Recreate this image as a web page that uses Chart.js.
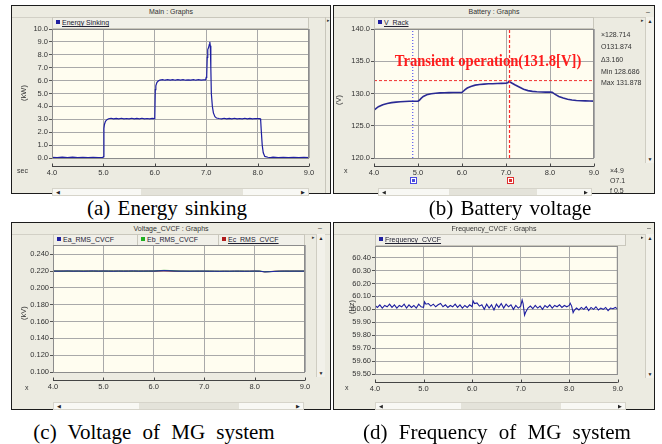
<!DOCTYPE html>
<html>
<head>
<meta charset="utf-8">
<script src="https://cdn.jsdelivr.net/npm/chart.js@4.4.0/dist/chart.umd.min.js"></script>
<style>
body { margin:0; width:662px; height:444px; background:#fff; position:relative; overflow:hidden; font-family:"Liberation Sans", Arial, sans-serif; }
.frame { position:absolute; background:#ecebe1; border:1px solid #1c1c1c; box-sizing:border-box; }
.ttl { position:absolute; left:0; right:0; top:0; height:11px; font-size:7px; line-height:11px; text-align:center; color:#333; border-bottom:1px solid #d2d0c6; }
.legend { position:absolute; height:12px; background:#f1f0e9; border:1px solid #c9c7bc; box-sizing:border-box; font-size:7px; line-height:10px; color:#223; }
.lg { position:absolute; top:0; height:10px; padding-left:3px; }
.lg i { display:inline-block; width:4px; height:4px; margin-right:2px; vertical-align:1px; }
.sep { border-left:1px solid #c9c7bc; }
.sel { text-decoration:underline; }
canvas { position:absolute; }
.ui { position:absolute; font-size:7px; color:#333; white-space:nowrap; line-height:8px; }
.ytl { position:absolute; font-size:7.5px; color:#333; transform:translate(-50%,-50%) rotate(-90deg); white-space:nowrap; }
.hs { position:absolute; height:8px; background:#f8f8f4; border:1px solid #d6d4ca; box-sizing:border-box; font-size:5px; line-height:6px; color:#222; }
.hs b { position:absolute; top:0; bottom:0; background:#e4e3da; }
.vs { position:absolute; width:9px; background:#f2f1ea; border-left:1px solid #cfcdc2; box-sizing:border-box; font-size:5px; color:#222; text-align:center; }
.cap { position:absolute; font-family:"Liberation Serif","Times New Roman",serif; font-size:21px; color:#000; white-space:nowrap; transform:translate(-50%,-50%); word-spacing:2px; }
.cap2 { word-spacing:6px; }
.note { position:absolute; font-family:"Liberation Serif","Times New Roman",serif; font-weight:bold; font-size:17px; color:#ff1c1c; white-space:nowrap; transform:translate(-50%,-50%) scaleX(0.86); }
</style>
</head>
<body>

<!-- (a) -->
<div class="frame" style="left:11px;top:5px;width:320px;height:189px">
  <div class="ttl">Main : Graphs</div>
</div>
<div class="ui" style="left:325px;top:17px;width:1px;height:176px;background:#c8c6bb"></div>
<div class="ui" style="left:327px;top:16px;font-size:5px">&#9656;</div>
<div class="legend" style="left:52px;top:17px;width:257px">
  <span class="lg"><i style="background:#1f1fa0"></i><span class="sel">Energy Sinking</span></span>
</div>
<canvas id="chartA" width="314" height="160" style="left:12px;top:20px"></canvas>
<div class="ytl" style="left:23px;top:93px">(kW)</div>
<div class="ui" style="left:17px;top:167px">sec</div>
<div class="hs" style="left:52px;top:188px;width:257px"><b style="left:88px;width:102px"></b><span style="position:absolute;left:3px">&#9664;</span><span style="position:absolute;right:3px">&#9654;</span></div>
<div class="cap" style="left:167px;top:208px">(a) Energy sinking</div>

<!-- (b) -->
<div class="frame" style="left:333px;top:5px;width:322px;height:189px">
  <div class="ttl">Battery : Graphs</div>
</div>
<div class="ui" style="left:646px;top:8px">&#8211;</div>
<div class="ui" style="left:641px;top:16px;font-size:5px">&#9656;</div>
<div class="vs" style="left:645px;top:17px;height:146px"><div style="margin-top:1px">&#9650;</div><div style="position:absolute;bottom:1px;width:8px">&#9660;</div></div>
<div class="legend" style="left:374px;top:17px;width:220px">
  <span class="lg"><i style="background:#1f1fa0"></i><span class="sel">V_Rack</span></span>
</div>
<canvas id="chartB" width="300" height="168" style="left:333px;top:20px"></canvas>
<div class="note" style="left:488px;top:61px">Transient operation(131.8[V])</div>
<div class="ytl" style="left:338px;top:100px">(V)</div>
<div class="ui" style="left:601px;top:31px">&#215;128.714</div>
<div class="ui" style="left:601px;top:43px">O131.874</div>
<div class="ui" style="left:601px;top:56px">&#916;3.160</div>
<div class="ui" style="left:601px;top:68px">Min 128.686</div>
<div class="ui" style="left:601px;top:79px">Max 131.878</div>
<div class="ui" style="left:344px;top:167px">x</div>
<div class="ui" style="left:610px;top:167px">&#215;4.9</div>
<div class="ui" style="left:610px;top:177px">O7.1</div>
<div class="ui" style="left:610px;top:187px">f 0.5</div>
<div class="hs" style="left:378px;top:188px;width:214px"><b style="left:70px;width:88px"></b><span style="position:absolute;left:3px">&#9664;</span><span style="position:absolute;right:3px">&#9654;</span></div>
<div class="cap" style="left:510px;top:208px">(b) Battery voltage</div>

<!-- (c) -->
<div class="frame" style="left:11px;top:222px;width:320px;height:188px">
  <div class="ttl">Voltage_CVCF : Graphs</div>
</div>
<div class="ui" style="left:318px;top:224px">&#8211;</div>
<div class="ui" style="left:312px;top:233px;font-size:5px">&#9656;</div>
<div class="vs" style="left:316px;top:234px;height:143px"><div style="margin-top:1px">&#9650;</div><div style="position:absolute;bottom:1px;width:8px">&#9660;</div></div>
<div class="legend" style="left:53px;top:234px;width:252px">
  <span class="lg" style="left:0"><i style="background:#1f1fa0"></i>Ea_RMS_CVCF</span>
  <span class="lg sep" style="left:83px"><i style="background:#20b020"></i>Eb_RMS_CVCF</span>
  <span class="lg sep" style="left:164px"><i style="background:#b01c1c"></i><span class="sel">Ec_RMS_CVCF</span></span>
</div>
<canvas id="chartC" width="314" height="160" style="left:12px;top:236px"></canvas>
<div class="ytl" style="left:23px;top:313px">(kV)</div>
<div class="ui" style="left:25px;top:384px">x</div>
<div class="hs" style="left:53px;top:402px;width:251px"><b style="left:85px;width:100px"></b><span style="position:absolute;left:3px">&#9664;</span><span style="position:absolute;right:3px">&#9654;</span></div>
<div class="cap cap2" style="left:154px;top:432px">(c) Voltage of MG system</div>

<!-- (d) -->
<div class="frame" style="left:333px;top:222px;width:322px;height:188px">
  <div class="ttl">Frequency_CVCF : Graphs</div>
</div>
<div class="ui" style="left:647px;top:224px">&#8211;</div>
<div class="ui" style="left:641px;top:233px;font-size:5px">&#9656;</div>
<div class="vs" style="left:645px;top:234px;height:144px"><div style="margin-top:1px">&#9650;</div><div style="position:absolute;bottom:1px;width:8px">&#9660;</div></div>
<div class="legend" style="left:375px;top:234px;width:251px">
  <span class="lg"><i style="background:#1f1fa0"></i><span class="sel">Frequency_CVCF</span></span>
</div>
<canvas id="chartD" width="300" height="160" style="left:333px;top:236px"></canvas>
<div class="ytl" style="left:351px;top:307px">(Hz)</div>
<div class="ui" style="left:345px;top:384px">x</div>
<div class="hs" style="left:375px;top:402px;width:251px"><b style="left:85px;width:100px"></b><span style="position:absolute;left:3px">&#9664;</span><span style="position:absolute;right:3px">&#9654;</span></div>
<div class="cap cap2" style="left:497px;top:432px">(d) Frequency of MG system</div>

<script>
// common x axis (sec)
const xTicks = [4, 5, 6, 7, 8, 9]

// (a) energy sinking, kW
const yTicksA = [0, 1, 2, 3, 4, 5, 6, 7, 8, 9, 10]
const tA = [
    4.0, 4.1, 4.2, 4.3, 4.4, 4.5, 4.6, 4.7, 4.8, 4.9,
    4.99, 5.0, 5.01, 5.02, 5.04, 5.07, 5.1, 5.15, 5.2, 5.25,
    5.3, 5.35, 5.4, 5.45, 5.5, 5.55, 5.6, 5.65, 5.7, 5.75,
    5.8, 5.85, 5.9, 5.95, 5.99, 6.0, 6.01, 6.02, 6.04, 6.07,
    6.1, 6.15, 6.2, 6.25, 6.3, 6.35, 6.4, 6.45, 6.5, 6.55,
    6.6, 6.65, 6.7, 6.75, 6.8, 6.85, 6.9, 6.95, 6.99, 7.0,
    7.01, 7.02, 7.03, 7.05, 7.06, 7.07, 7.08, 7.09, 7.1, 7.12,
    7.14, 7.17, 7.2, 7.25, 7.3, 7.35, 7.4, 7.45, 7.5, 7.55,
    7.6, 7.65, 7.7, 7.75, 7.8, 7.85, 7.9, 7.95, 8.0, 8.05,
    8.06, 8.07, 8.09, 8.11, 8.14, 8.2, 8.25, 8.3, 8.4, 8.5,
    8.6, 8.7, 8.8, 8.9, 9.0
]
const pA = [
    0.05, 0.03, 0.06, 0.04, 0.06, 0.03, 0.05, 0.04, 0.06, 0.04,
    0.05, 0.1, 2.3, 2.6, 2.85, 2.97, 3.04, 3.08, 3.03, 3.07,
    3.04, 3.08, 3.03, 3.06, 3.04, 3.08, 3.03, 3.07, 3.04, 3.08,
    3.03, 3.06, 3.04, 3.07, 3.05, 3.2, 5.3, 5.6, 5.85, 5.98,
    6.04, 6.08, 6.03, 6.07, 6.04, 6.08, 6.03, 6.07, 6.04, 6.08,
    6.03, 6.06, 6.04, 6.08, 6.03, 6.07, 6.04, 6.06, 6.05, 6.25,
    6.4, 7.8, 8.4, 8.6, 8.8, 9.0, 8.7, 7.0, 5.0, 4.0,
    3.5, 3.2, 3.1, 3.06, 3.04, 3.08, 3.03, 3.07, 3.04, 3.08,
    3.03, 3.06, 3.04, 3.08, 3.03, 3.07, 3.04, 3.06, 3.05, 3.05,
    2.9, 2.2, 1.0, 0.4, 0.12, 0.06, 0.04, 0.06, 0.03, 0.05,
    0.04, 0.06, 0.04, 0.05, 0.04
]

// (b) battery rack voltage, V
const yTicksB = [120, 125, 130, 135, 140]
const tB = [
    4.0, 4.05, 4.1, 4.2, 4.3, 4.4, 4.5, 4.6, 4.7, 4.8,
    4.9, 5.0, 5.03, 5.07, 5.12, 5.2, 5.3, 5.4, 5.5, 5.6,
    5.7, 5.8, 5.9, 6.0, 6.03, 6.07, 6.12, 6.2, 6.3, 6.4,
    6.5, 6.6, 6.7, 6.8, 6.9, 7.0, 7.04, 7.07, 7.1, 7.15,
    7.2, 7.3, 7.4, 7.5, 7.6, 7.7, 7.8, 7.9, 8.0, 8.05,
    8.1, 8.2, 8.3, 8.4, 8.5, 8.6, 8.7, 8.8, 8.9, 9.0
]
const vB = [
    127.4, 127.7, 127.95, 128.25, 128.45, 128.58, 128.66, 128.72, 128.76, 128.79,
    128.8, 128.82, 128.95, 129.25, 129.55, 129.8, 129.95, 130.05, 130.1, 130.12,
    130.14, 130.15, 130.16, 130.17, 130.35, 130.6, 130.85, 131.1, 131.3, 131.4,
    131.45, 131.5, 131.52, 131.55, 131.57, 131.6, 131.65, 131.88, 131.75, 131.55,
    131.35, 131.0, 130.65, 130.45, 130.33, 130.27, 130.24, 130.22, 130.21, 130.2,
    129.95, 129.55, 129.3, 129.1, 128.98, 128.92, 128.88, 128.86, 128.84, 128.82
]
const cursorsB = [4.88, 7.08]
const levelB = 132.0

// (c) phase rms voltages, kV
const yTicksC = [0.10, 0.12, 0.14, 0.16, 0.18, 0.20, 0.22, 0.24]
const tC = [
    4.0, 4.1, 4.2, 4.3, 4.4, 4.5, 4.6, 4.7, 4.8, 4.9,
    5.0, 5.1, 5.2, 5.3, 5.4, 5.5, 5.6, 5.7, 5.8, 5.9,
    6.0, 6.1, 6.2, 6.3, 6.4, 6.5, 6.6, 6.7, 6.8, 6.9,
    7.0, 7.1, 7.2, 7.3, 7.4, 7.5, 7.6, 7.7, 7.8, 7.9,
    8.0, 8.1, 8.2, 8.3, 8.4, 8.5, 8.6, 8.7, 8.8, 8.9,
    9.0
]
const eaC = [
    0.2201, 0.2199, 0.2200, 0.2202, 0.2199, 0.2201, 0.2198, 0.2200, 0.2202, 0.2199,
    0.2201, 0.2200, 0.2198, 0.2201, 0.2199, 0.2200, 0.2202, 0.2199, 0.2200, 0.2201,
    0.2200, 0.2203, 0.2206, 0.2204, 0.2201, 0.2199, 0.2200, 0.2198, 0.2200, 0.2199,
    0.2200, 0.2198, 0.2199, 0.2197, 0.2199, 0.2198, 0.2200, 0.2199, 0.2198, 0.2199,
    0.2200, 0.2199, 0.2190, 0.2192, 0.2196, 0.2199, 0.2200, 0.2199, 0.2200, 0.2199,
    0.2200
]
const ebC = [
    0.2199, 0.2201, 0.2199, 0.2200, 0.2201, 0.2199, 0.2201, 0.2199, 0.2200, 0.2201,
    0.2199, 0.2201, 0.2200, 0.2199, 0.2201, 0.2199, 0.2200, 0.2201, 0.2199, 0.2200,
    0.2201, 0.2205, 0.2209, 0.2207, 0.2203, 0.2200, 0.2199, 0.2200, 0.2199, 0.2200,
    0.2199, 0.2200, 0.2198, 0.2199, 0.2198, 0.2199, 0.2198, 0.2200, 0.2199, 0.2198,
    0.2199, 0.2200, 0.2192, 0.2193, 0.2197, 0.2198, 0.2199, 0.2200, 0.2199, 0.2200,
    0.2199
]
const ecC = [
    0.2200, 0.2200, 0.2201, 0.2199, 0.2200, 0.2200, 0.2200, 0.2201, 0.2199, 0.2200,
    0.2200, 0.2199, 0.2201, 0.2200, 0.2200, 0.2201, 0.2199, 0.2200, 0.2201, 0.2200,
    0.2200, 0.2202, 0.2204, 0.2202, 0.2200, 0.2200, 0.2199, 0.2199, 0.2198, 0.2199,
    0.2198, 0.2199, 0.2198, 0.2198, 0.2199, 0.2198, 0.2199, 0.2199, 0.2199, 0.2199,
    0.2200, 0.2198, 0.2191, 0.2194, 0.2198, 0.2200, 0.2200, 0.2200, 0.2200, 0.2200,
    0.2200
]

// (d) system frequency, Hz
const yTicksD = [59.5, 59.6, 59.7, 59.8, 59.9, 60.0, 60.1, 60.2, 60.3, 60.4]
const tD = [
    4.0, 4.05, 4.1, 4.15, 4.2, 4.25, 4.3, 4.35, 4.4, 4.45,
    4.5, 4.55, 4.6, 4.65, 4.7, 4.75, 4.8, 4.85, 4.9, 4.95,
    5.0, 5.02, 5.05, 5.1, 5.15, 5.2, 5.25, 5.3, 5.35, 5.4,
    5.45, 5.5, 5.55, 5.6, 5.65, 5.7, 5.75, 5.8, 5.85, 5.9,
    5.95, 6.0, 6.02, 6.05, 6.1, 6.15, 6.2, 6.25, 6.3, 6.35,
    6.4, 6.45, 6.5, 6.55, 6.6, 6.65, 6.7, 6.75, 6.8, 6.85,
    6.9, 6.95, 7.0, 7.03, 7.05, 7.08, 7.1, 7.15, 7.2, 7.25,
    7.3, 7.35, 7.4, 7.45, 7.5, 7.55, 7.6, 7.65, 7.7, 7.75,
    7.8, 7.85, 7.9, 7.95, 8.0, 8.02, 8.05, 8.08, 8.1, 8.15,
    8.2, 8.25, 8.3, 8.35, 8.4, 8.45, 8.5, 8.55, 8.6, 8.65,
    8.7, 8.75, 8.8, 8.85, 8.9, 8.95, 9.0
]
const fD = [
    60.03, 60.015, 60.035, 60.01, 60.03, 60.02, 60.04, 60.015, 60.035, 60.01,
    60.03, 60.02, 60.04, 60.01, 60.035, 60.015, 60.03, 60.01, 60.04, 60.02,
    60.015, 60.058, 60.04, 60.045, 60.025, 60.04, 60.02, 60.035, 60.045, 60.02,
    60.035, 60.015, 60.03, 60.02, 60.04, 60.015, 60.035, 60.01, 60.03, 60.015,
    60.035, 60.02, 60.065, 60.045, 60.05, 60.025, 60.035, 60.0, 60.04, 60.01,
    60.035, 59.995, 60.04, 60.015, 60.045, 60.01, 60.04, 60.02, 60.035, 60.0,
    60.03, 60.01, 60.025, 60.072, 60.045, 59.955, 59.975, 60.01, 60.025, 60.005,
    60.03, 60.01, 60.025, 60.0, 60.03, 60.015, 60.035, 60.01, 60.03, 60.02,
    60.035, 60.015, 60.03, 60.02, 60.03, 60.047, 60.025, 59.975, 59.99, 60.01,
    59.995, 60.015, 60.0, 60.02, 59.99, 60.015, 60.0, 60.02, 59.995, 60.01,
    60.0, 60.015, 59.99, 60.01, 60.005, 60.015, 60.0
]

const tickFont = {family: 'Liberation Sans', size: 7.5}

// cream plot area, plot border, detached x axis line and cursor markers
const plotFrame = {
    id: 'plotFrame',
    beforeDraw(chart) {
        const a = chart.chartArea
        const ctx = chart.ctx
        ctx.save()
        ctx.fillStyle = '#fffdf0'
        ctx.fillRect(a.left, a.top, a.right - a.left, a.bottom - a.top)
        ctx.restore()
    },
    afterDraw(chart, args, opts) {
        const a = chart.chartArea
        const ctx = chart.ctx
        const xs = chart.scales.x
        ctx.save()
        ctx.strokeStyle = '#8c8c8c'
        ctx.lineWidth = 1
        ctx.strokeRect(a.left + 0.5, a.top + 0.5, a.right - a.left - 1, a.bottom - a.top)
        const ay = Math.round(a.bottom + 8) + 0.5
        ctx.strokeStyle = '#444'
        ctx.beginPath()
        ctx.moveTo(a.left, ay)
        ctx.lineTo(a.right, ay)
        xTicks.forEach(v => {
            const px = Math.round(xs.getPixelForValue(v)) + 0.5
            ctx.moveTo(px, ay)
            ctx.lineTo(px, ay - 3)
        })
        ctx.stroke()
        ;(opts.markers || []).forEach(m => {
            const px = Math.round(xs.getPixelForValue(m.x)) + 0.5
            ctx.fillStyle = '#fff'
            ctx.strokeStyle = m.color
            ctx.fillRect(px - 3, ay + 11, 6, 6)
            ctx.strokeRect(px - 3, ay + 11, 6, 6)
            ctx.fillStyle = m.color
            ctx.fillRect(px - 1.5, ay + 12.5, 3, 3)
        })
        ctx.restore()
    }
}

function series(ts, vs, color, width) {
    return {
        data: ts.map((t, i) => ({x: t, y: vs[i]})),
        borderColor: color,
        borderWidth: width || 1,
        pointRadius: 0,
        tension: 0
    }
}

function vline(x, y0, y1, color, dash) {
    return {data: [{x: x, y: y0}, {x: x, y: y1}], borderColor: color, borderWidth: 1.2, borderDash: dash, pointRadius: 0}
}

function makePanel(id, cfg) {
    const c = document.getElementById(id)
    return new Chart(c.getContext('2d'), {
        type: 'line',
        data: {datasets: cfg.datasets},
        options: {
            responsive: false,
            animation: false,
            events: [],
            layout: {padding: cfg.pad},
            plugins: {
                legend: {display: false},
                tooltip: {enabled: false},
                plotFrame: {markers: cfg.markers}
            },
            scales: {
                x: {
                    type: 'linear', min: 4, max: 9,
                    afterBuildTicks: s => { s.ticks = xTicks.map(v => ({value: v})) },
                    afterFit: s => { s.height = cfg.xh },
                    ticks: {font: tickFont, color: '#333', padding: 10, maxRotation: 0,
                            callback: v => v.toFixed(1)},
                    grid: {color: '#a9a9a9', drawTicks: false},
                    border: {display: false}
                },
                y: {
                    type: 'linear', min: cfg.ymin, max: cfg.ymax,
                    afterBuildTicks: s => { s.ticks = cfg.yticks.map(v => ({value: v})) },
                    afterFit: s => { s.width = cfg.yw },
                    ticks: {font: tickFont, color: '#333', padding: 1,
                            callback: v => v.toFixed(cfg.dec)},
                    grid: {color: '#a9a9a9', tickColor: '#555', tickLength: 3},
                    border: {color: '#8c8c8c'}
                }
            }
        },
        plugins: [plotFrame]
    })
}

makePanel('chartA', {
    datasets: [series(tA, pA, '#1e1ea0', 1.2)],
    ymin: 0, ymax: 10, yticks: yTicksA, dec: 1,
    pad: {left: 0, right: 17, top: 9, bottom: 0}, yw: 40, xh: 22
})

makePanel('chartB', {
    datasets: [
        vline(cursorsB[0], 120, 140, '#5a5af0', [1, 2]),
        vline(cursorsB[1], 120, 140, '#ff2a2a', [3, 2]),
        {data: [{x: 4, y: levelB}, {x: 9, y: levelB}], borderColor: '#f03030', borderWidth: 1, borderDash: [3, 2], pointRadius: 0},
        series(tB, vB, '#2a2a94', 1.6)
    ],
    markers: [{x: cursorsB[0], color: '#4a4ae0'}, {x: cursorsB[1], color: '#e03030'}],
    ymin: 120, ymax: 140, yticks: yTicksB, dec: 1,
    pad: {left: 0, right: 39, top: 9, bottom: 0}, yw: 41, xh: 30
})

makePanel('chartC', {
    datasets: [
        series(tC, eaC, '#2020b0', 1),
        series(tC, ebC, '#20a820', 1),
        series(tC, ecC, '#a81c1c', 1)
    ],
    ymin: 0.1, ymax: 0.251, yticks: yTicksC, dec: 3,
    pad: {left: 0, right: 21, top: 9, bottom: 0}, yw: 41, xh: 24
})

makePanel('chartD', {
    datasets: [series(tD, fD, '#1e1ea0', 1.1)],
    ymin: 59.5, ymax: 60.49, yticks: yTicksD, dec: 2,
    pad: {left: 0, right: 9, top: 10, bottom: 0}, yw: 42, xh: 22
})
</script>
</body>
</html>
